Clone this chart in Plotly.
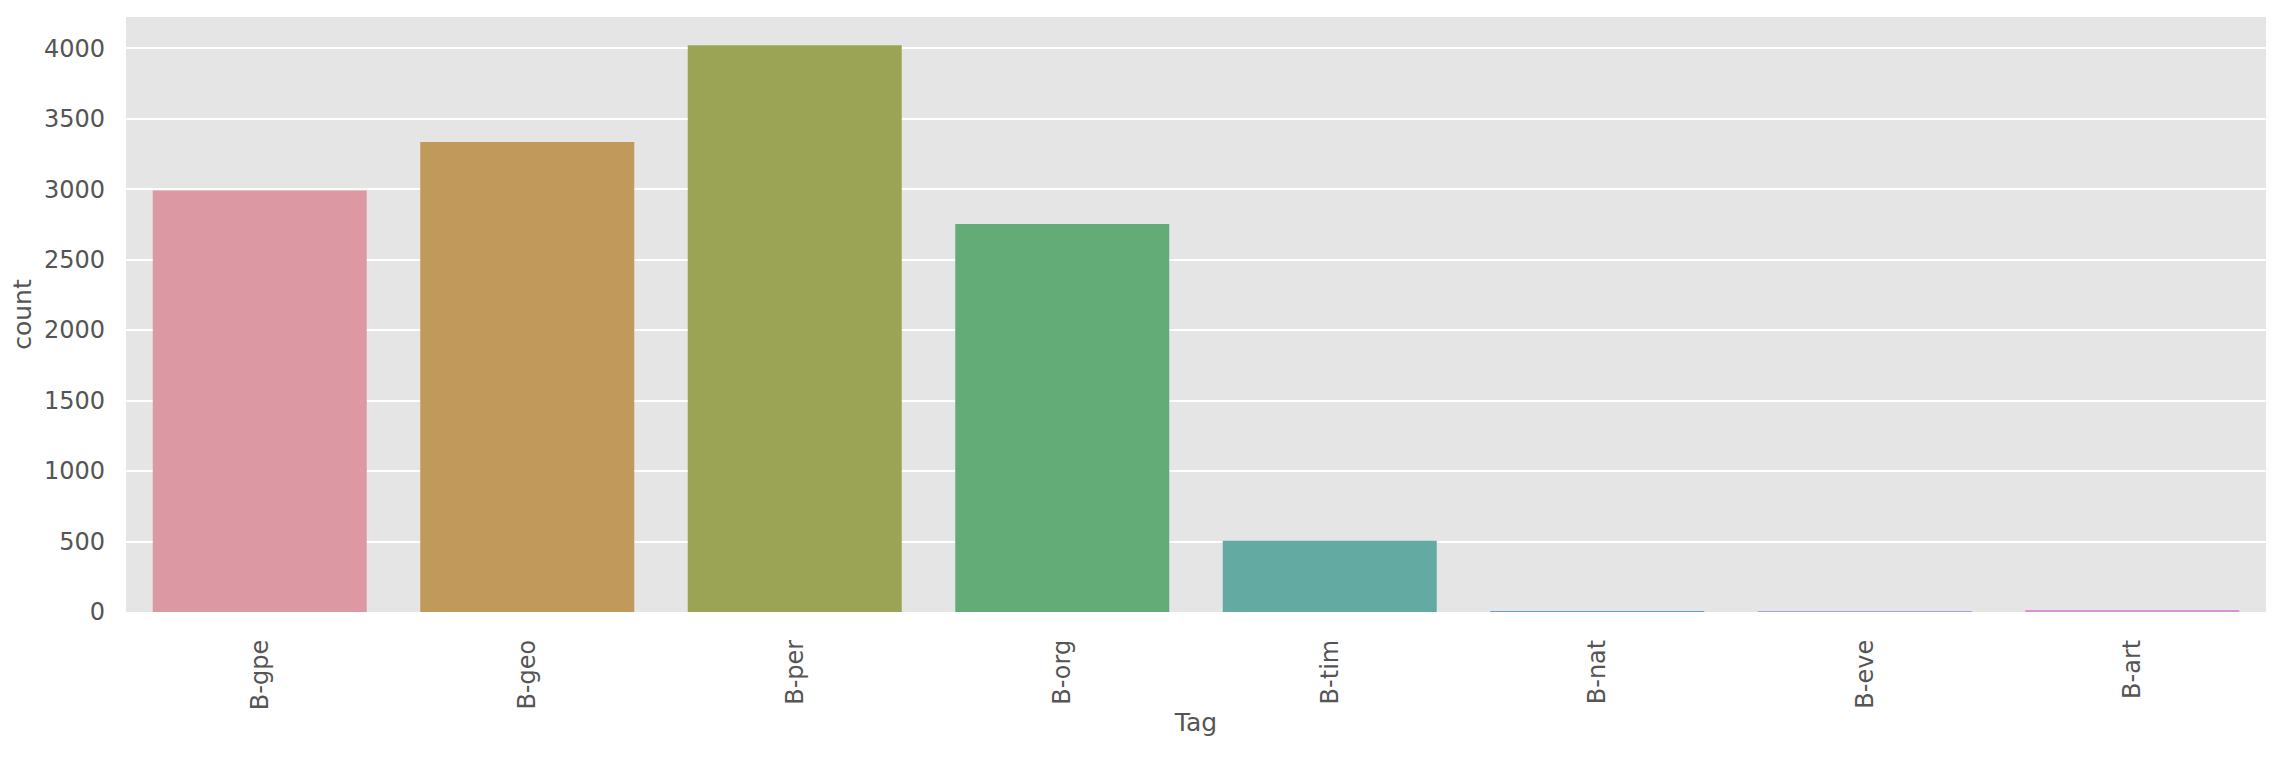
import plotly.graph_objects as go

tags = ["B-gpe", "B-geo", "B-per", "B-org", "B-tim", "B-nat", "B-eve", "B-art"]
counts = [2990, 3335, 4020, 2752, 505, 1, 2, 9]
colors = ["#dd99a3", "#c1995a", "#9ba455", "#64ac77", "#63aaa3", "#62a8c6", "#aaa0e2", "#dd93d3"]
y_ticks = [0, 500, 1000, 1500, 2000, 2500, 3000, 3500, 4000]

fig = go.Figure(
    go.Bar(
        x=list(range(len(tags))),
        y=counts,
        width=0.8,
        marker=dict(color=colors, line=dict(width=0)),
    )
)

font_color = "#555555"
fig.update_layout(
    width=2286,
    height=760,
    margin=dict(l=118, r=28, t=9, b=156),
    paper_bgcolor="white",
    plot_bgcolor="#E5E5E5",
    font=dict(family="DejaVu Sans", color=font_color, size=24),
    showlegend=False,
)
fig.update_xaxes(
    range=[-0.5, len(tags) - 0.5],
    tickmode="array",
    tickvals=list(range(len(tags))),
    ticktext=tags,
    tickangle=-90,
    showgrid=False,
    zeroline=False,
    showline=False,
    ticks="",
    ticklabelstandoff=22,
    tickfont=dict(size=24, color=font_color),
    title=dict(text="Tag", font=dict(size=25, color=font_color), standoff=4),
    automargin=False,
)
fig.update_yaxes(
    range=[0, max(counts) * 1.05],
    tickmode="array",
    tickvals=y_ticks,
    ticktext=[str(v) for v in y_ticks],
    showgrid=True,
    gridcolor="white",
    gridwidth=2,
    zeroline=False,
    showline=False,
    ticks="",
    ticklabelstandoff=20,
    tickfont=dict(size=24, color=font_color),
    title=dict(text="count", font=dict(size=25, color=font_color), standoff=5),
    automargin=False,
)

fig.write_html("out.html")
